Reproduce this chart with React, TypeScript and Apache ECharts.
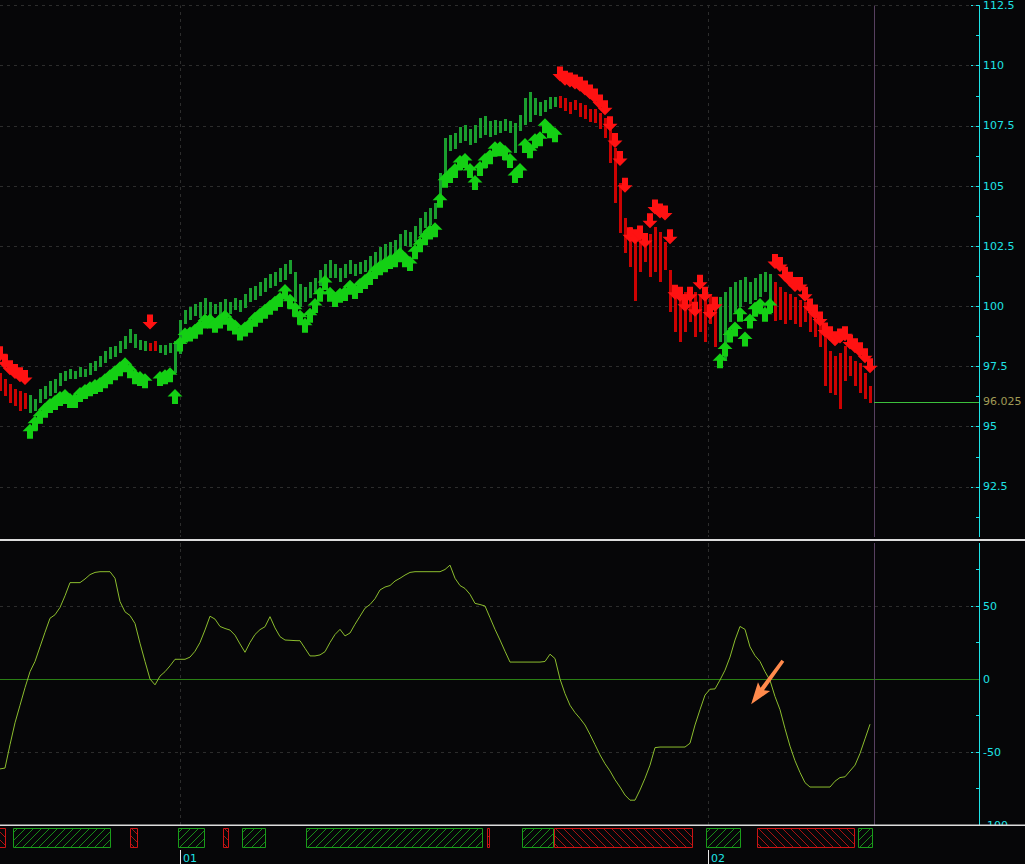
import React, { useEffect, useRef } from 'react';
import * as echarts from 'echarts';

// ---------- DATA ----------
const highs = [
  97.22, 96.98, 96.77, 96.56, 96.48, 96.40, 96.32, 96.15, 96.56, 96.69,
  96.89, 96.98, 97.22, 97.31, 97.39, 97.31, 97.47, 97.39, 97.64, 97.72,
  97.92, 98.13, 98.29, 98.34, 98.54, 98.75, 99.04, 98.87, 98.62, 98.54,
  98.46, 98.54, 98.38, 98.38, 98.46, 98.54, 99.45, 99.86, 99.98, 100.11,
  100.19, 100.35, 100.19, 100.11, 100.19, 100.31, 100.19, 100.35, 100.27, 100.52,
  100.77, 100.85, 101.01, 101.18, 101.34, 101.43, 101.59, 101.76, 101.92, 101.43,
  100.93, 100.81, 101.01, 101.18, 101.51, 101.76, 101.92, 101.76, 101.59, 101.76,
  101.92, 101.76, 101.84, 101.92, 102.09, 102.25, 102.46, 102.58, 102.66, 102.74,
  102.99, 103.16, 103.07, 103.32, 103.69, 103.90, 104.10, 104.31, 105.55, 106.99,
  107.11, 107.19, 107.44, 107.52, 107.36, 107.52, 107.81, 107.89, 107.69, 107.73,
  107.69, 107.77, 107.69, 107.61, 107.94, 108.64, 108.92, 108.64, 108.51, 108.59,
  108.68, 108.68, 108.76, 108.64, 108.51, 108.59, 108.43, 108.35, 108.22, 108.18,
  108.02, 107.81, 107.40, 106.58, 105.13, 103.69, 103.28, 103.07, 102.99, 102.87,
  102.99, 103.28, 103.07, 102.66, 101.51, 100.60, 100.52, 100.60, 100.40, 100.60,
  100.52, 100.27, 100.52, 100.19, 100.40, 100.60, 100.81, 101.01, 101.10, 101.22,
  101.01, 101.18, 101.34, 101.43, 101.34, 101.01, 100.81, 100.60, 100.52, 100.40,
  100.27, 100.19, 99.98, 99.70, 99.45, 98.75, 98.13, 97.92, 98.05, 98.34,
  97.92, 97.72, 97.64, 97.22, 96.69,
];

const lows = [
  96.48, 96.28, 95.99, 95.86, 95.66, 95.74, 95.58, 95.66, 95.99, 96.15,
  96.28, 96.40, 96.69, 96.89, 96.98, 96.98, 97.06, 97.06, 97.14, 97.31,
  97.47, 97.64, 97.80, 97.88, 98.05, 98.21, 98.46, 98.29, 98.21, 98.13,
  98.13, 98.13, 98.05, 97.96, 98.05, 97.22, 98.05, 99.28, 99.45, 99.61,
  99.53, 99.70, 99.61, 99.70, 99.61, 99.78, 99.70, 99.86, 99.78, 99.94,
  100.19, 100.27, 100.44, 100.60, 100.77, 100.85, 101.01, 101.10, 101.34, 100.19,
  99.98, 100.19, 100.35, 100.60, 100.85, 101.10, 101.18, 101.18, 101.01, 101.18,
  101.34, 101.26, 101.34, 101.43, 101.51, 101.67, 101.84, 101.92, 102.04, 102.17,
  102.33, 102.50, 102.46, 102.66, 102.99, 103.24, 103.40, 103.65, 104.31, 105.13,
  106.45, 106.53, 106.78, 106.86, 106.70, 106.78, 106.99, 107.11, 107.03, 107.11,
  107.19, 107.28, 107.19, 106.37, 107.28, 107.52, 107.69, 107.94, 107.94, 108.10,
  108.18, 108.27, 108.27, 108.10, 108.02, 108.18, 107.85, 107.77, 107.69, 107.61,
  107.36, 106.99, 105.96, 104.31, 103.07, 102.25, 101.63, 100.19, 101.43, 101.84,
  101.22, 101.43, 101.01, 101.51, 99.78, 98.95, 98.54, 98.95, 99.37, 98.75,
  98.95, 98.54, 99.28, 98.34, 98.54, 97.72, 99.37, 99.78, 99.98, 100.19,
  100.11, 100.27, 100.40, 100.60, 100.19, 99.37, 99.45, 99.28, 99.45, 99.28,
  99.16, 99.37, 98.95, 98.75, 98.34, 96.69, 96.40, 96.28, 95.74, 96.89,
  97.10, 96.69, 96.40, 96.15, 95.99,
];

// trend runs: [firstBar, lastBar, direction]
const trendRuns: [number, number, number][] = [
  [0, 5, -1], [6, 29, 1], [30, 31, -1], [32, 111, 1], [112, 143, -1], [144, 154, 1], [155, 174, -1],
];

// trailing-stop arrows: [firstBar, values]
const upStopRuns: [number, number[]][] = [
  [6, [95.12, 95.45, 95.74, 95.99, 96.19, 96.32, 96.48, 96.56, 96.40, 96.40, 96.65, 96.77,
    96.89, 96.98, 97.06, 97.22, 97.39, 97.55, 97.72, 97.88, 97.64, 97.39, 97.31, 97.22]],
  [32, [97.31, 97.39, 97.47, 96.56, 98.75, 99.12, 99.16, 99.28, 99.45, 99.70, 99.70, 99.53,
    99.70, 99.86, 99.61, 99.45, 99.20, 99.37, 99.53, 99.78, 99.94, 100.11, 100.27, 100.44,
    100.60, 100.93, 100.52, 100.19, 99.86, 99.53, 99.94, 100.35, 100.81, 101.30, 100.81, 100.60,
    100.77, 100.85, 101.10, 100.93, 101.18, 101.34, 101.51, 101.76, 101.92, 102.04, 102.17, 102.25,
    102.46, 102.25, 102.09, 102.58, 102.87, 103.16, 103.40, 103.49, 104.72, 105.55, 105.75, 105.96,
    106.29, 106.37, 105.96, 105.46, 106.04, 106.37, 106.53, 106.86, 106.86, 106.70, 106.37, 105.75,
    105.96, 106.99, 106.78, 107.19, 107.28, 107.81, 107.61, 107.44]],
  [144, [98.05, 98.54, 99.12, 99.37, 99.98, 98.95, 99.70, 100.19, 100.35, 99.98, 100.35]],
];

const downStopRuns: [number, number[]][] = [
  [0, [97.72, 97.39, 97.14, 96.98, 96.85, 96.73]],
  [30, [99.04]],
  [112, [109.34, 109.17, 109.09, 109.01, 108.92, 108.76, 108.59, 108.43, 108.18, 107.94, 107.28,
    106.58, 105.83, 104.72, 102.66, 102.58, 102.74, 102.42, 103.24, 103.82, 103.65, 103.57, 102.58,
    100.27, 100.19, 99.78, 100.19, 99.57, 100.69, 100.19, 99.45, 99.78]],
  [155, [101.55, 101.43, 101.02, 100.81, 100.60, 100.60, 100.19, 99.70, 99.45, 99.16, 98.71,
    98.55, 98.34, 98.46, 98.55, 98.21, 98.05, 97.88, 97.64, 97.22]],
];

const oscillator = [
  -61.6, -61, -45, -30, -18, -6, 5, 12, 22, 32,
  41.6, 44, 49, 57, 66, 66, 66, 68.5, 71.5, 73,
  73.5, 73.5, 73.5, 69, 53, 46, 43.5, 38, 24.5, 12,
  0, -4, 2, 5, 9, 13.5, 13.5, 13.5, 15, 19,
  25, 33.6, 43, 41, 36, 34.6, 33.5, 30, 24, 18.3,
  25, 30.5, 33.8, 35.8, 42.7, 35, 29, 26.7, 26.5, 26.3,
  26.2, 21, 15.8, 15.8, 16.5, 18.7, 25, 30.5, 34, 29.5,
  31.5, 37.5, 43, 48.5, 51, 55, 61, 63, 64, 67.1,
  69, 71.2, 73, 73.5, 73.5, 73.5, 73.5, 73.5, 73.5, 75,
  78, 69, 64, 62, 58, 51.8, 51, 50, 42, 34,
  26.7, 19, 11.6, 11.6, 11.6, 11.6, 11.6, 11.6, 11.6, 12,
  17, 14, 0, -10, -18, -23, -27, -31.5, -38, -45,
  -52, -58, -63, -69, -74, -79.5, -83, -83, -76, -68,
  -59, -47, -46.6, -46.6, -46.6, -46.6, -46.6, -46.6, -44, -31.5,
  -21, -11, -7, -6.8, -0.7, 6, 15, 26.7, 36, 34,
  22, 16, 12, 5, -1, -12, -21, -34, -46, -56,
  -64, -71, -74, -74, -74, -74, -74, -70, -67.5, -67,
  -63, -59, -51, -41, -31,
];

// bottom state strip: segments in bar units, kind 1 = bullish, -1 = bearish
const stripStarts = [-1, 2.6, 26, 35.6, 44.6, 48.4, 61.2, 97.4, 104.4, 110.8, 141.2, 151.4, 171.6];
const stripEnds = [1, 22, 27.4, 40.8, 45.6, 53, 96.4, 97.8, 110.6, 138.4, 148, 170.8, 174.4];
const stripKinds = [-1, 1, -1, 1, -1, 1, 1, -1, 1, -1, 1, -1, 1];

const monthStarts = [36, 141.6];
const monthLabels = ['01', '02'];
const priceTickValues = [92.5, 95, 97.5, 100, 102.5, 105, 107.5, 110, 112.5];
const oscTickValues = [-100, -50, 0, 50];
const oscGridValues = [-50, 50];
const lastPrice = 96.025;
const cursorIndex = 174.8;
const annotationPoint: [number, number] = [153.4, -2.4];

// ---------- STYLE ----------
const BG = '#060608';
const CYAN = '#1ee2e6';
const FONT = 'DejaVu Sans, sans-serif';
const GRIDC = '#2c2c2c';
const BAR_UP = '#1a9e2e';
const BAR_DN = '#cc0202';
const ARR_UP = '#14d014';
const ARR_DN = '#ff1212';
const OSC = '#8cbd2e';
const X_MAX = 195.8;

const UP_ARROW = 'path://M7.5,0 L15,7.5 L10.5,7.5 L10.5,15 L4.5,15 L4.5,7.5 L0,7.5 Z';
const DN_ARROW = 'path://M4.5,0 L10.5,0 L10.5,7.5 L15,7.5 L7.5,15 L0,7.5 L4.5,7.5 Z';
const ANNOT_ARROW = 'path://M7,0 L14,22 L9,19 L8.6,54 L5.4,54 L5,19 L0,22 Z';

function trendOf(i: number) {
  for (const r of trendRuns) if (i >= r[0] && i <= r[1]) return r[2];
  return 1;
}

function runsToPoints(runs: [number, number[]][]) {
  const pts: [number, number][] = [];
  runs.forEach(([start, vals]) => vals.forEach((v, k) => pts.push([start + k, v])));
  return pts;
}

export default function App() {
  const ref = useRef<HTMLDivElement>(null);
  useEffect(() => {
    if (!ref.current) return;
    document.body.style.margin = '0';
    document.body.style.background = BG;
    const chart = echarts.init(ref.current, undefined, { renderer: 'svg' });

    const barData = highs.map((h, i) => [i, lows[i], h, trendOf(i)]);
    const stripData = stripStarts.map((s, k) => [s, stripEnds[k], stripKinds[k], 0.5]);

    const axisY = (extra: any) => ({
      type: 'value',
      position: 'right',
      axisLine: { show: true, onZero: false, lineStyle: { color: CYAN, width: 1 } },
      minorTick: { show: true, splitNumber: 2, length: 3, lineStyle: { color: CYAN } },
      splitLine: { show: false },
      minorSplitLine: { show: false },
      ...extra,
    });

    const option: any = {
      animation: false,
      backgroundColor: BG,
      grid: [
        { left: 0, right: 46, top: 1, height: 546 },
        { left: 0, right: 46, top: 533, height: 292 },
        { left: 0, right: 46, top: 826, height: 24 },
      ],
      xAxis: [
        { type: 'value', gridIndex: 0, min: 0, max: X_MAX, show: false },
        { type: 'value', gridIndex: 1, min: 0, max: X_MAX, show: false },
        {
          type: 'value', gridIndex: 2, min: 0, max: X_MAX,
          axisLine: { show: false },
          splitLine: { show: false },
          axisTick: { show: true, customValues: monthStarts, length: 14, lineStyle: { color: '#e6e6e6' } },
          axisLabel: {
            customValues: monthStarts,
            formatter: (v: number) => monthLabels[monthStarts.indexOf(v)] ?? '',
            color: CYAN, fontSize: 11, fontFamily: FONT, align: 'left', margin: 3, padding: [0, 0, 0, 3],
          },
        },
      ],
      yAxis: [
        axisY({
          gridIndex: 0, min: 90, max: 112.5, interval: 2.5,
          axisTick: { show: true, inside: true, length: 8, customValues: priceTickValues, lineStyle: { color: CYAN } },
          axisLabel: { customValues: priceTickValues, color: CYAN, fontSize: 11, fontFamily: FONT, margin: 4 },
        }),
        axisY({
          gridIndex: 1, min: -100, max: 100, interval: 50,
          axisTick: { show: true, inside: true, length: 8, customValues: oscTickValues, lineStyle: { color: CYAN } },
          axisLabel: { customValues: oscTickValues, color: CYAN, fontSize: 11, fontFamily: FONT, margin: 4 },
        }),
        { type: 'value', gridIndex: 2, min: 0, max: 1, show: false },
      ],
      graphic: [
        { type: 'rect', z: 100, shape: { x: 0, y: 537, width: 1025, height: 6 }, style: { fill: BG } },
        { type: 'rect', z: 101, shape: { x: 0, y: 539, width: 1025, height: 2 }, style: { fill: '#dcdcdc' } },
        { type: 'rect', z: 100, shape: { x: 0, y: 826, width: 1025, height: 24 }, style: { fill: BG } },
        { type: 'rect', z: 101, shape: { x: 0, y: 824.5, width: 1025, height: 1.5 }, style: { fill: '#dcdcdc' } },
      ],
      series: [
        {
          type: 'custom',
          name: 'bars',
          xAxisIndex: 0, yAxisIndex: 0, z: 2,
          data: barData,
          encode: { x: 0, y: [1, 2] },
          clip: false,
          renderItem: (params: any, api: any) => {
            const i = api.value(0);
            const lo = api.coord([i, api.value(1)]);
            const hi = api.coord([i, api.value(2)]);
            const up = api.value(3) > 0;
            return {
              type: 'rect',
              shape: { x: Math.round(lo[0]) - 1, y: Math.round(hi[1]), width: 3, height: Math.max(1, Math.round(lo[1] - hi[1])) },
              style: { fill: up ? BAR_UP : BAR_DN },
            };
          },
        },
        {
          type: 'scatter',
          name: 'upStop',
          xAxisIndex: 0, yAxisIndex: 0, z: 3,
          data: runsToPoints(upStopRuns),
          symbol: UP_ARROW,
          symbolSize: [15, 15],
          symbolOffset: [0, '50%'],
          itemStyle: { color: ARR_UP, opacity: 1 },
          clip: false,
          markLine: {
            silent: true, symbol: ['none', 'none'], z: 1, animation: false,
            label: { show: false },
            data: [
              ...priceTickValues.map((v) => ({ yAxis: v, lineStyle: { color: GRIDC, type: [3, 4], width: 1 } })),
              ...monthStarts.map((m) => ({ xAxis: m, lineStyle: { color: GRIDC, type: [3, 4], width: 1 } })),
              { xAxis: cursorIndex, lineStyle: { color: '#574060', type: 'solid', width: 1 } },
              [
                {
                  coord: [cursorIndex, lastPrice],
                  lineStyle: { color: '#3cbf3c', type: 'solid', width: 1 },
                  label: { show: true, position: 'end', distance: 4, formatter: String(lastPrice), color: '#a09a55', fontSize: 11, fontFamily: FONT },
                },
                { coord: [X_MAX, lastPrice] },
              ],
            ],
          },
        },
        {
          type: 'scatter',
          name: 'downStop',
          xAxisIndex: 0, yAxisIndex: 0, z: 3,
          data: runsToPoints(downStopRuns),
          symbol: DN_ARROW,
          symbolSize: [15, 15],
          symbolOffset: [0, '-50%'],
          itemStyle: { color: ARR_DN, opacity: 1 },
          clip: false,
        },
        {
          type: 'line',
          name: 'oscillator',
          xAxisIndex: 1, yAxisIndex: 1, z: 3,
          data: oscillator.map((v, i) => [i, v]),
          showSymbol: false,
          symbol: 'none',
          lineStyle: { color: OSC, width: 1 },
          markLine: {
            silent: true, symbol: ['none', 'none'], z: 1, animation: false,
            label: { show: false },
            data: [
              ...oscGridValues.map((v) => ({ yAxis: v, lineStyle: { color: GRIDC, type: [3, 4], width: 1 } })),
              { yAxis: 0, lineStyle: { color: '#2a7f14', type: 'solid', width: 1 } },
              ...monthStarts.map((m) => ({ xAxis: m, lineStyle: { color: GRIDC, type: [3, 4], width: 1 } })),
              { xAxis: cursorIndex, lineStyle: { color: '#574060', type: 'solid', width: 1 } },
            ],
          },
          markPoint: {
            silent: true, z: 10, animation: false,
            data: [
              {
                coord: annotationPoint,
                symbol: ANNOT_ARROW,
                symbolSize: [15, 54],
                symbolRotate: 144,
                itemStyle: { color: '#ff8a4c' },
                label: { show: false },
              },
            ],
          },
        },
        {
          type: 'custom',
          name: 'strip',
          xAxisIndex: 2, yAxisIndex: 2, z: 150,
          data: stripData,
          encode: { x: [0, 1], y: 3 },
          clip: true,
          renderItem: (params: any, api: any) => {
            const cs = params.coordSys;
            const p0 = api.coord([api.value(0), 0.5]);
            const p1 = api.coord([api.value(1), 0.5]);
            const bull = api.value(2) > 0;
            const x0 = Math.round(p0[0]) + 0.5;
            const x1 = Math.round(p1[0]) + 0.5;
            const y0 = cs.y + 2.5;
            const y1 = cs.y + cs.height - 2.5;
            const stroke = bull ? '#1a9c1a' : '#cc1414';
            const hatch = bull ? '#188a18' : '#a81212';
            const children: any[] = [];
            const step = 8;
            if (bull) {
              for (let c = x0 + y0 + 4; c < x1 + y1; c += step) {
                const xa = Math.max(x0, c - y1);
                const xb = Math.min(x1, c - y0);
                if (xb > xa) children.push({ type: 'line', shape: { x1: xa, y1: c - xa, x2: xb, y2: c - xb }, style: { stroke: hatch, lineWidth: 1 } });
              }
            } else {
              for (let c = x0 - y1 + 4; c < x1 - y0; c += step) {
                const xa = Math.max(x0, c + y0);
                const xb = Math.min(x1, c + y1);
                if (xb > xa) children.push({ type: 'line', shape: { x1: xa, y1: xa - c, x2: xb, y2: xb - c }, style: { stroke: hatch, lineWidth: 1 } });
              }
            }
            children.push({
              type: 'rect',
              shape: { x: x0, y: y0, width: Math.max(1, x1 - x0), height: y1 - y0 },
              style: { fill: 'none', stroke, lineWidth: 1 },
            });
            return { type: 'group', children };
          },
        },
      ],
    };

    chart.setOption(option);
    return () => chart.dispose();
  }, []);

  return (
    <div
      ref={ref}
      style={{ position: 'fixed', left: 0, top: 0, width: 1025, height: 864, background: BG }}
    />
  );
}
